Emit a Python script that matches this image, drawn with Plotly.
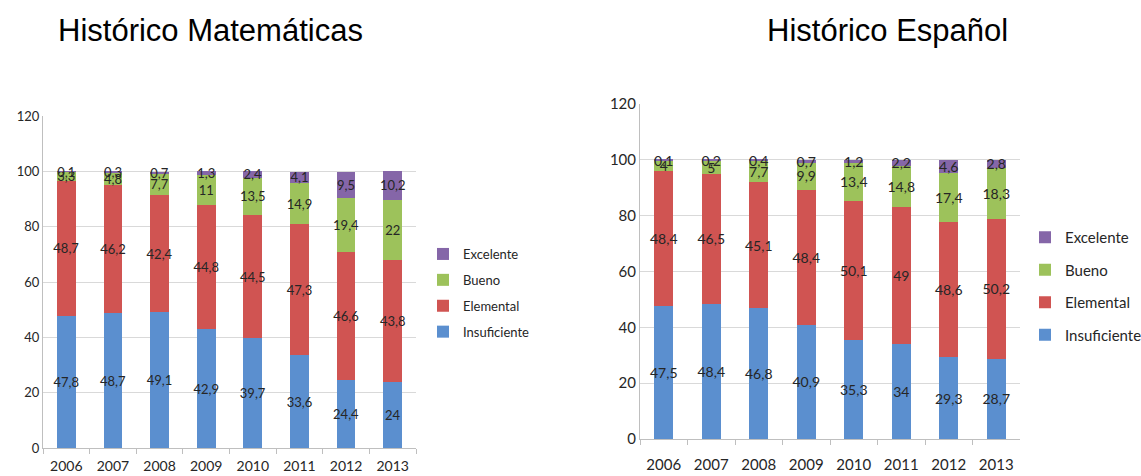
import plotly.graph_objects as go

years = ["2006", "2007", "2008", "2009", "2010", "2011", "2012", "2013"]
levels = ["Insuficiente", "Elemental", "Bueno", "Excelente"]

# Matemáticas
mat_insuficiente = [47.8, 48.7, 49.1, 42.9, 39.7, 33.6, 24.4, 24]
mat_elemental = [48.7, 46.2, 42.4, 44.8, 44.5, 47.3, 46.6, 43.8]
mat_bueno = [3.3, 4.8, 7.7, 11, 13.5, 14.9, 19.4, 22]
mat_excelente = [0.1, 0.3, 0.7, 1.3, 2.4, 4.1, 9.5, 10.2]

# Español
esp_insuficiente = [47.5, 48.4, 46.8, 40.9, 35.3, 34, 29.3, 28.7]
esp_elemental = [48.4, 46.5, 45.1, 48.4, 50.1, 49, 48.6, 50.2]
esp_bueno = [4, 5, 7.7, 9.9, 13.4, 14.8, 17.4, 18.3]
esp_excelente = [0.1, 0.2, 0.4, 0.7, 1.2, 2.2, 4.6, 2.8]

colors = {
    "Insuficiente": "#5B8FCF",
    "Elemental": "#D05452",
    "Bueno": "#9DC25B",
    "Excelente": "#8566A8",
}

body_font = "Lato, Open Sans, sans-serif"
W, H = 1141, 476


def fmt(v):
    return str(v).replace(".", ",")


fig = go.Figure()

panels = [
    ("x", "y", "legend", "m", [mat_insuficiente, mat_elemental, mat_bueno, mat_excelente], 13),
    ("x2", "y2", "legend2", "e", [esp_insuficiente, esp_elemental, esp_bueno, esp_excelente], 14),
]

for xa, ya, leg, tag, series, fs in panels:
    for i, (name, vals) in enumerate(zip(levels, series)):
        fig.add_trace(go.Bar(
            x=years, y=vals, name=name, xaxis=xa, yaxis=ya, legend=leg,
            legendgroup=tag + name, legendrank=len(levels) - i,
            marker=dict(color=colors[name], line=dict(width=0)),
            text=[fmt(v) for v in vals],
            textposition="inside", insidetextanchor="middle",
            constraintext="none", textangle=0,
            textfont=dict(family=body_font, size=fs, color="#262626"),
            width=0.4,
        ))


def xaxis_style(domain, anchor, size, standoff):
    return dict(domain=domain, anchor=anchor, ticks="outside",
                tickson="boundaries", ticklen=5, tickcolor="#BFBFBF",
                ticklabelstandoff=standoff,
                showline=True, linecolor="#BFBFBF", linewidth=1,
                tickfont=dict(family=body_font, size=size, color="#262626"))


def yaxis_style(domain, anchor, size):
    return dict(domain=domain, anchor=anchor, range=[0, 120], dtick=20,
                showgrid=True, gridcolor="#D9D9D9", zeroline=False, ticks="",
                showline=True, linecolor="#BFBFBF", linewidth=1,
                tickfont=dict(family=body_font, size=size, color="#262626"))


fig.update_layout(
    width=W, height=H,
    margin=dict(l=0, r=0, t=0, b=0, autoexpand=False),
    paper_bgcolor="white", plot_bgcolor="white",
    barmode="stack", bargap=0.6,
    xaxis=xaxis_style([43 / W, 416 / W], "y", 14, 5),
    yaxis=yaxis_style([1 - 448 / H, 1 - 116 / H], "x", 13),
    xaxis2=xaxis_style([640 / W, 1020 / W], "y2", 15, 12),
    yaxis2=yaxis_style([1 - 439 / H, 1 - 104 / H], "x2", 15),
    legend=dict(x=423 / W, y=1 - 293 / H, xanchor="left", yanchor="middle",
                traceorder="grouped", tracegroupgap=6, itemwidth=30,
                font=dict(family=body_font, size=13, color="#262626"),
                bgcolor="rgba(0,0,0,0)"),
    legend2=dict(x=1025 / W, y=1 - 286 / H, xanchor="left", yanchor="middle",
                 traceorder="grouped", tracegroupgap=10, itemwidth=30,
                 font=dict(family=body_font, size=15, color="#262626"),
                 bgcolor="rgba(0,0,0,0)"),
    annotations=[
        dict(text="Histórico Matemáticas", x=210 / W, y=1 - 30 / H,
             xref="paper", yref="paper", xanchor="center", yanchor="middle",
             showarrow=False,
             font=dict(family="Liberation Sans, Arial, sans-serif", size=31, color="black")),
        dict(text="Histórico Español", x=887 / W, y=1 - 30 / H,
             xref="paper", yref="paper", xanchor="center", yanchor="middle",
             showarrow=False,
             font=dict(family="Liberation Sans, Arial, sans-serif", size=31, color="black")),
    ],
)

fig.write_html("out.html")
